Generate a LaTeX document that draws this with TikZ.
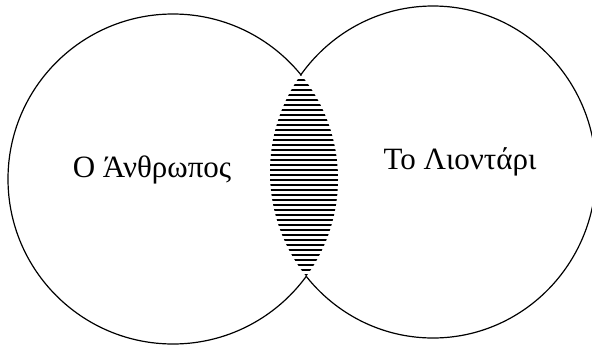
\documentclass[tikz,border=0pt]{standalone}
\usepackage{fontspec}
\setmainfont{Liberation Serif}
\begin{document}
\begin{tikzpicture}[x=1pt,y=-1pt,
  outline/.style={line width=1.2pt,black},
  hatchline/.style={line width=2.5pt,black},
  label/.style={font=\fontsize{31}{36}\selectfont,anchor=base,inner sep=0pt}]
\useasboundingbox (0,0) rectangle (592,346);
% outer arcs (outside the lens)
\begin{scope}[even odd rule]
  \clip (-10,-10) rectangle (602,356) (433,172) ellipse [x radius=163, y radius=166];
  \draw[outline] (173,179) ellipse [x radius=165, y radius=165];
\end{scope}
\begin{scope}[even odd rule]
  \clip (-10,-10) rectangle (602,356) (173,179) ellipse [x radius=165, y radius=165];
  \draw[outline] (433,172) ellipse [x radius=163, y radius=166];
\end{scope}
% hatched lens
\begin{scope}
  \clip (173,179) ellipse [x radius=165, y radius=165];
  \clip (433,172) ellipse [x radius=163, y radius=166];
  \foreach \y in {70,75,...,290} \draw[hatchline] (250,\y) -- (350,\y);
\end{scope}
\node[label] (man) at (152,177) {Ο Άνθρωπος};
\node[label] (lion) at (460,169) {Το Λιοντάρι};
\end{tikzpicture}
\end{document}
